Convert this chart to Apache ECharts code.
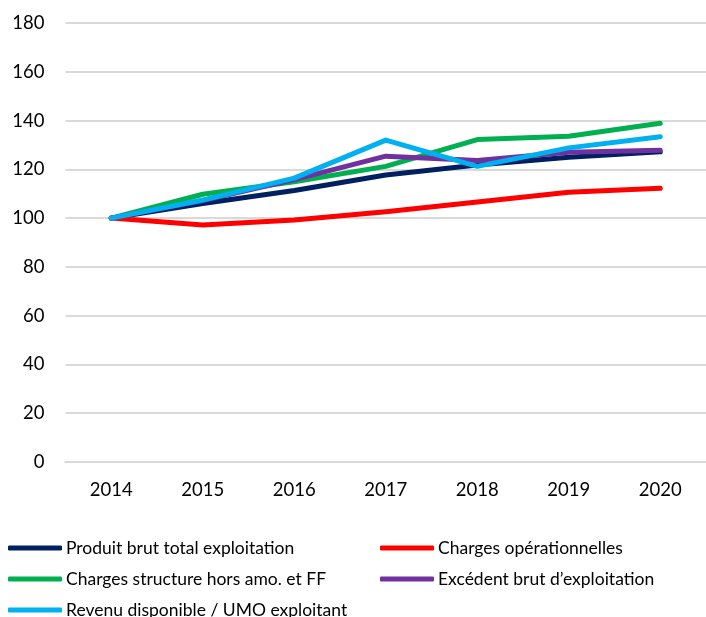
<!DOCTYPE html>
<html><head><meta charset="utf-8">
<script src="https://cdn.jsdelivr.net/npm/echarts@6/dist/echarts.min.js"></script>
<style>html,body{margin:0;padding:0;background:#fff}#c{width:706px;height:617px}</style>
</head><body><div id="c"></div>
<script>
const years = ['2014','2015','2016','2017','2018','2019','2020'];
const yTicks = [0,20,40,60,80,100,120,140,160,180];
const produitBrut = [100,106.0,111.3,117.7,121.8,125.0,127.2];
const chargesOper = [100,97.2,99.2,102.6,106.6,110.6,112.2];
const chargesStruct = [100,109.8,114.9,121.2,132.2,133.6,138.9];
const ebe = [100,107.2,115.8,125.4,123.6,127.0,127.8];
const revenuUMO = [100,107.4,116.4,132.0,121.2,128.8,133.4];
const names = ['Produit brut total exploitation','Charges opérationnelles','Charges structure hors amo. et FF','Excédent brut d\u2019exploitation','Revenu disponible / UMO exploitant'];
const colors = ['#002060','#FF0000','#00B050','#7030A0','#00B0F0'];
const datas = [produitBrut, chargesOper, chargesStruct, ebe, revenuUMO];
const FONT = 'Lato';
const legendPos = [[8,539],[380,539],[8,570],[380,570],[8,601]];
const chart = echarts.init(document.getElementById('c'));
chart.setOption({
  animation:false,
  textStyle:{fontFamily:FONT},
  grid:{left:65.5,top:23,width:665,height:439,containLabel:false},
  xAxis:{type:'category',data:years,boundaryGap:true,
    axisLine:{show:true,lineStyle:{color:'#d9d9d9',width:2}},
    axisTick:{show:false},
    axisLabel:{color:'#000',fontSize:18.5,fontFamily:FONT,margin:19}},
  yAxis:{type:'value',min:0,max:180,interval:20,
    axisLine:{show:false},axisTick:{show:false},
    splitLine:{lineStyle:{color:'#d9d9d9',width:2}},
    axisLabel:{color:'#000',fontSize:18.5,fontFamily:FONT,margin:21}},
  legend: names.map((n,i)=>({
    data:[n], left:legendPos[i][0], top:legendPos[i][1], padding:0,
    itemWidth:54, itemHeight:5, itemGap:0,
    icon:'roundRect',
    textStyle:{color:'#000',fontSize:17.5,fontFamily:FONT,padding:[0,0,0,-1]}
  })),
  series: names.map((n,i)=>({
    name:n,type:'line',data:datas[i],symbol:'none',smooth:false,
    lineStyle:{color:colors[i],width:5,cap:'round',join:'round'},
    itemStyle:{color:colors[i]},z:2+i
  }))
});
</script></body></html>
